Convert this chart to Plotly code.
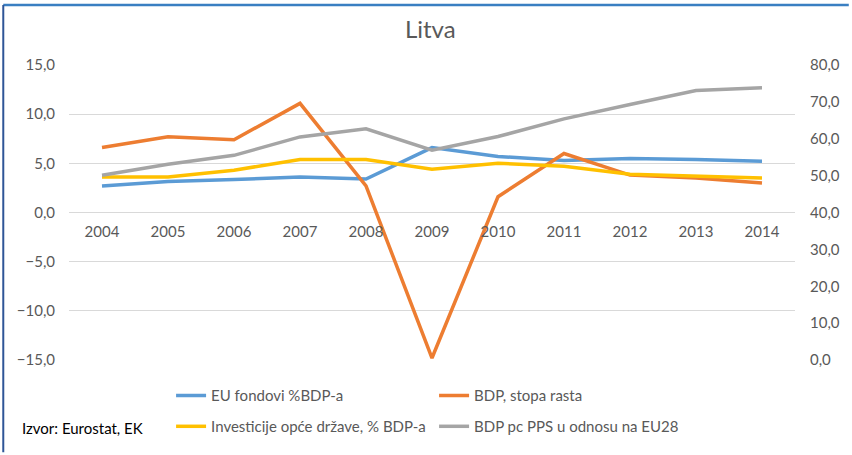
import plotly.graph_objects as go

# years on the category axis
years = ['2004', '2005', '2006', '2007', '2008', '2009', '2010', '2011', '2012', '2013', '2014']

# left axis series (%)
eu_fondovi = [2.7, 3.15, 3.35, 3.6, 3.4, 6.6, 5.7, 5.3, 5.5, 5.4, 5.2]
bdp_rast = [6.6, 7.7, 7.4, 11.1, 2.7, -14.8, 1.6, 6.0, 3.8, 3.5, 3.0]
investicije = [3.6, 3.6, 4.3, 5.4, 5.4, 4.4, 5.0, 4.7, 3.9, 3.7, 3.5]

# right axis series (EU28 = 100)
bdp_pps = [50.1, 53.1, 55.5, 60.5, 62.7, 56.9, 60.6, 65.4, 69.3, 73.1, 73.8]

txt = '#595959'
fnt = 'Lato, Noto Sans, sans-serif'

fig = go.Figure()
fig.add_trace(go.Scatter(x=years, y=eu_fondovi, name='EU fondovi %BDP-a', mode='lines',
                         line=dict(color='#5B9BD5', width=3.5), legend='legend'))
fig.add_trace(go.Scatter(x=years, y=bdp_rast, name='BDP, stopa rasta', mode='lines',
                         line=dict(color='#ED7D31', width=3.5), legend='legend'))
fig.add_trace(go.Scatter(x=years, y=investicije, name='Investicije opće države, % BDP-a', mode='lines',
                         line=dict(color='#FFC000', width=3.5), legend='legend2'))
fig.add_trace(go.Scatter(x=years, y=bdp_pps, name='BDP pc PPS u odnosu na EU28', mode='lines',
                         line=dict(color='#A5A5A5', width=3.5), yaxis='y2', legend='legend2'))

leg = dict(orientation='h', xanchor='left', yanchor='middle', entrywidth=218,
           font=dict(family=fnt, size=15, color=txt), bgcolor='rgba(0,0,0,0)',
           traceorder='normal', itemwidth=30)

fig.update_layout(
    width=852, height=455,
    margin=dict(l=69, r=54, t=65, b=93),
    paper_bgcolor='white', plot_bgcolor='white',
    separators=',.',
    font=dict(family=fnt, color=txt),
    title=dict(text='Litva', x=0.505, xanchor='center', y=0.934, yanchor='middle',
               font=dict(family=fnt, size=24, color=txt)),
    xaxis=dict(type='category', range=[-0.5, 10.5], anchor='free', position=0.5,
               showgrid=False, showline=False, ticks='', zeroline=False,
               ticklabelstandoff=8, tickfont=dict(size=15, color=txt)),
    yaxis=dict(range=[-15, 15], dtick=5, tickformat='.1f', showgrid=True,
               gridcolor='#D9D9D9', gridwidth=1, zeroline=False, showline=False,
               ticks='', ticklabelstandoff=13, tickfont=dict(size=15, color=txt)),
    yaxis2=dict(range=[0, 80], dtick=10, tickformat='.1f', overlaying='y', side='right',
                showgrid=False, zeroline=False, showline=False, ticks='',
                ticklabelstandoff=14, tickfont=dict(size=15, color=txt)),
    legend=dict(leg, x=0.1406, y=(362 - 398) / 297),
    legend2=dict(leg, x=0.1406, y=(362 - 429) / 297),
    annotations=[dict(text='Izvor: Eurostat, EK', xref='paper', yref='paper',
                      x=(20 - 69) / 729, y=(362 - 430) / 297, xanchor='left', yanchor='middle',
                      showarrow=False, font=dict(family=fnt, size=15, color='black'))],
    shapes=[
        dict(type='line', xref='paper', yref='paper', x0=(3 - 69) / 729, x1=(852 - 69) / 729,
             y0=(362 - 4.5) / 297, y1=(362 - 4.5) / 297, line=dict(color='#3A7FC2', width=2.5)),
        dict(type='line', xref='paper', yref='paper', x0=(3 - 69) / 729, x1=(3 - 69) / 729,
             y0=(362 - 4.5) / 297, y1=(362 - 455) / 297, line=dict(color='#2F5597', width=2)),
    ],
)

# page has a default 8px body margin, drop it so the chart sits at the window's corner
fig.write_html('out.html', config={'displayModeBar': False},
               post_script="document.body.style.margin='0';")
